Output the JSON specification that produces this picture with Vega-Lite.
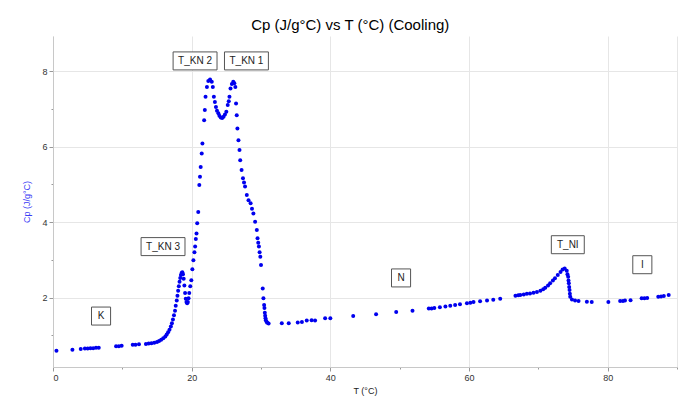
{
  "$schema": "https://vega.github.io/schema/vega-lite/v6.json",
  "width": 624,
  "height": 331,
  "autosize": {"type": "none"},
  "padding": {"left": 53, "top": 36, "right": 6, "bottom": 34},
  "background": "white",
  "title": {"text": "Cp (J/g°C) vs T (°C) (Cooling)", "fontSize": 15, "font": "Liberation Sans", "fontWeight": "normal", "color": "#000000", "anchor": "middle", "frame": "bounds", "offset": 3},
  "config": {
    "view": {"stroke": null},
    "font": "Liberation Sans",
    "axis": {"labelFont": "Liberation Sans", "titleFont": "Liberation Sans", "labelFontSize": 9, "labelColor": "#333333", "titleFontSize": 9, "titleFontWeight": "normal", "domainColor": "#c8c8c8", "tickColor": "#999999", "gridColor": "#e6e6e6"}
  },
  "datasets": {
    "pts": [
      {"T":0.5,"Cp":0.59},{"T":2.8,"Cp":0.62},{"T":4.0,"Cp":0.64},{"T":4.6,"Cp":0.65},{"T":5.0,"Cp":0.65},{"T":5.4,"Cp":0.66},{"T":5.8,"Cp":0.66},{"T":6.2,"Cp":0.67},{"T":6.6,"Cp":0.67},
      {"T":9.1,"Cp":0.71},{"T":9.5,"Cp":0.71},{"T":9.9,"Cp":0.72},{"T":11.5,"Cp":0.75},{"T":11.9,"Cp":0.75},{"T":12.4,"Cp":0.76},
      {"T":13.4,"Cp":0.77},{"T":13.8,"Cp":0.78},{"T":14.2,"Cp":0.79},{"T":14.6,"Cp":0.8},{"T":15.0,"Cp":0.82},{"T":15.3,"Cp":0.85},{"T":15.6,"Cp":0.88},{"T":15.9,"Cp":0.92},
      {"T":16.2,"Cp":0.97},{"T":16.4,"Cp":1.02},{"T":16.6,"Cp":1.08},{"T":16.8,"Cp":1.15},{"T":17.0,"Cp":1.23},{"T":17.15,"Cp":1.32},{"T":17.3,"Cp":1.42},{"T":17.45,"Cp":1.53},
      {"T":17.6,"Cp":1.65},{"T":17.7,"Cp":1.78},{"T":17.85,"Cp":1.92},{"T":17.95,"Cp":2.05},{"T":18.05,"Cp":2.18},{"T":18.15,"Cp":2.3},{"T":18.25,"Cp":2.42},{"T":18.35,"Cp":2.52},
      {"T":18.45,"Cp":2.6},{"T":18.55,"Cp":2.65},{"T":18.65,"Cp":2.67},{"T":18.75,"Cp":2.62},{"T":18.85,"Cp":2.5},{"T":18.95,"Cp":2.32},{"T":19.05,"Cp":2.12},{"T":19.15,"Cp":1.97},
      {"T":19.25,"Cp":1.88},{"T":19.35,"Cp":1.85},{"T":19.45,"Cp":1.88},{"T":19.55,"Cp":1.98},{"T":19.65,"Cp":2.12},{"T":19.8,"Cp":2.3},{"T":19.95,"Cp":2.46},{"T":20.1,"Cp":2.75},
      {"T":20.25,"Cp":2.99},{"T":20.4,"Cp":3.2},{"T":20.5,"Cp":3.35},{"T":20.6,"Cp":3.55},{"T":20.7,"Cp":3.7},{"T":20.8,"Cp":3.97},{"T":20.95,"Cp":4.27},{"T":21.1,"Cp":4.98},
      {"T":21.2,"Cp":5.2},{"T":21.3,"Cp":5.46},{"T":21.45,"Cp":5.82},{"T":21.55,"Cp":6.08},{"T":21.8,"Cp":6.7},{"T":21.9,"Cp":6.97},{"T":22.0,"Cp":7.32},{"T":22.2,"Cp":7.58},
      {"T":22.4,"Cp":7.74},{"T":22.65,"Cp":7.78},{"T":22.9,"Cp":7.72},{"T":23.05,"Cp":7.58},{"T":23.2,"Cp":7.32},{"T":23.35,"Cp":7.18},{"T":23.5,"Cp":7.05},{"T":23.65,"Cp":6.95},
      {"T":23.85,"Cp":6.88},{"T":24.0,"Cp":6.82},{"T":24.2,"Cp":6.77},{"T":24.4,"Cp":6.76},{"T":24.6,"Cp":6.79},{"T":24.8,"Cp":6.85},{"T":25.0,"Cp":6.92},{"T":25.2,"Cp":7.1},
      {"T":25.35,"Cp":7.2},{"T":25.45,"Cp":7.32},{"T":25.6,"Cp":7.54},{"T":25.8,"Cp":7.66},{"T":26.0,"Cp":7.72},{"T":26.15,"Cp":7.68},{"T":26.3,"Cp":7.58},{"T":26.4,"Cp":7.14},
      {"T":26.5,"Cp":6.83},{"T":26.6,"Cp":6.48},{"T":26.75,"Cp":6.17},{"T":26.9,"Cp":5.91},{"T":27.0,"Cp":5.64},{"T":27.2,"Cp":5.38},{"T":27.4,"Cp":5.16},{"T":27.55,"Cp":5.05},
      {"T":27.7,"Cp":4.94},{"T":27.95,"Cp":4.72},{"T":28.2,"Cp":4.58},{"T":28.5,"Cp":4.5},{"T":28.7,"Cp":4.35},{"T":28.9,"Cp":4.23},{"T":29.15,"Cp":4.01},{"T":29.4,"Cp":3.79},
      {"T":29.5,"Cp":3.57},{"T":29.6,"Cp":3.45},{"T":29.7,"Cp":3.35},{"T":29.8,"Cp":3.2},{"T":29.9,"Cp":3.08},{"T":30.0,"Cp":2.86},{"T":30.25,"Cp":2.24},{"T":30.35,"Cp":1.98},
      {"T":30.45,"Cp":1.8},{"T":30.5,"Cp":1.72},{"T":30.55,"Cp":1.6},{"T":30.6,"Cp":1.52},{"T":30.65,"Cp":1.45},{"T":30.7,"Cp":1.4},{"T":30.8,"Cp":1.36},{"T":30.9,"Cp":1.33},
      {"T":31.1,"Cp":1.31},{"T":33.0,"Cp":1.32},{"T":34.0,"Cp":1.32},{"T":35.3,"Cp":1.34},{"T":35.9,"Cp":1.35},{"T":36.6,"Cp":1.39},{"T":37.3,"Cp":1.4},{"T":37.8,"Cp":1.39},
      {"T":39.25,"Cp":1.45},{"T":40.0,"Cp":1.45},{"T":43.3,"Cp":1.51},{"T":46.6,"Cp":1.56},{"T":49.5,"Cp":1.62},{"T":51.85,"Cp":1.65},{"T":54.2,"Cp":1.71},{"T":54.6,"Cp":1.71},
      {"T":55.0,"Cp":1.72},{"T":55.8,"Cp":1.74},{"T":56.6,"Cp":1.76},{"T":57.3,"Cp":1.78},{"T":58.0,"Cp":1.8},{"T":58.7,"Cp":1.82},{"T":59.7,"Cp":1.85},{"T":60.2,"Cp":1.86},
      {"T":60.65,"Cp":1.88},{"T":61.6,"Cp":1.9},{"T":62.6,"Cp":1.92},{"T":63.5,"Cp":1.94},{"T":64.5,"Cp":1.97},{"T":66.7,"Cp":2.05},{"T":67.1,"Cp":2.06},{"T":67.4,"Cp":2.07},
      {"T":67.9,"Cp":2.08},{"T":68.35,"Cp":2.1},{"T":68.8,"Cp":2.11},{"T":69.3,"Cp":2.13},{"T":69.8,"Cp":2.15},{"T":70.3,"Cp":2.18},{"T":70.7,"Cp":2.22},{"T":71.0,"Cp":2.26},
      {"T":71.4,"Cp":2.32},{"T":71.7,"Cp":2.38},{"T":72.1,"Cp":2.45},{"T":72.4,"Cp":2.51},{"T":72.8,"Cp":2.6},{"T":73.2,"Cp":2.68},{"T":73.5,"Cp":2.74},{"T":73.8,"Cp":2.77},
      {"T":74.1,"Cp":2.71},{"T":74.2,"Cp":2.62},{"T":74.3,"Cp":2.55},{"T":74.35,"Cp":2.45},{"T":74.4,"Cp":2.38},{"T":74.45,"Cp":2.28},{"T":74.5,"Cp":2.2},{"T":74.55,"Cp":2.1},
      {"T":74.6,"Cp":2.02},{"T":74.85,"Cp":1.95},{"T":75.3,"Cp":1.92},{"T":75.8,"Cp":1.91},{"T":77.0,"Cp":1.89},{"T":77.7,"Cp":1.88},{"T":80.1,"Cp":1.88},{"T":81.8,"Cp":1.91},
      {"T":82.2,"Cp":1.91},{"T":82.5,"Cp":1.92},{"T":83.3,"Cp":1.93},{"T":84.9,"Cp":1.98},{"T":85.3,"Cp":1.98},{"T":85.7,"Cp":1.99},{"T":87.3,"Cp":2.02},{"T":87.7,"Cp":2.03},
      {"T":88.1,"Cp":2.04},{"T":88.8,"Cp":2.07}
    ],
    "labels": [
      {"T":6.93,"Cp":1.51,"label":"K","box":"n"},
      {"T":15.87,"Cp":3.35,"label":"T_KN 3","box":"w"},
      {"T":20.49,"Cp":8.27,"label":"T_KN 2","box":"w"},
      {"T":27.9,"Cp":8.27,"label":"T_KN 1","box":"w"},
      {"T":50.2,"Cp":2.52,"label":"N","box":"n"},
      {"T":74.25,"Cp":3.4,"label":"T_NI","box":"m"},
      {"T":85.0,"Cp":2.87,"label":"I","box":"n"}
    ]
  },
  "encoding": {
    "x": {"field": "T", "type": "quantitative", "scale": {"domain": [0, 90], "nice": false, "zero": false},
      "axis": {"title": "T (°C)", "titleColor": "#222222", "titlePadding": 4, "values": [0,10,20,30,40,50,60,70,80,90],
        "labelExpr": "datum.value % 20 === 0 ? datum.label : ''", "labelPadding": 2,
        "tickSize": {"condition": {"test": "datum.value % 20 === 0", "value": 4}, "value": 2},
        "gridOpacity": {"condition": {"test": "datum.value % 20 === 0 || datum.value === 90", "value": 1}, "value": 0}}},
    "y": {"field": "Cp", "type": "quantitative", "scale": {"domain": [0.16, 8.93], "nice": false, "zero": false},
      "axis": {"title": "Cp (J/g°C)", "titleColor": "#3b3bf5", "titlePadding": 10, "values": [1,2,3,4,5,6,7,8],
        "labelExpr": "datum.value % 2 === 0 ? datum.label : ''", "labelPadding": 2,
        "tickSize": {"condition": {"test": "datum.value % 2 === 0", "value": 4}, "value": 2},
        "gridOpacity": {"condition": {"test": "datum.value % 2 === 0", "value": 1}, "value": 0}}}
  },
  "layer": [
    {"data": {"name": "pts"}, "mark": {"type": "point", "filled": true, "color": "#0000ee", "size": 16, "opacity": 1}},
    {"data": {"name": "labels"}, "mark": {"type": "point", "filled": false, "fill": "white", "fillOpacity": 1, "stroke": "#555555", "strokeWidth": 1, "size": 324, "opacity": 1},
      "encoding": {"shape": {"field": "box", "type": "nominal", "legend": null,
        "scale": {"domain": ["w", "m", "n"], "range": ["M-2.44,-1H2.44V1H-2.44Z", "M-1.83,-1H1.83V1H-1.83Z", "M-1.06,-1H1.06V1H-1.06Z"]}}}},
    {"data": {"name": "labels"}, "mark": {"type": "text", "fontSize": 10, "font": "Liberation Sans", "color": "#222222", "align": "center", "baseline": "middle"},
      "encoding": {"text": {"field": "label", "type": "nominal"}}}
  ]
}
